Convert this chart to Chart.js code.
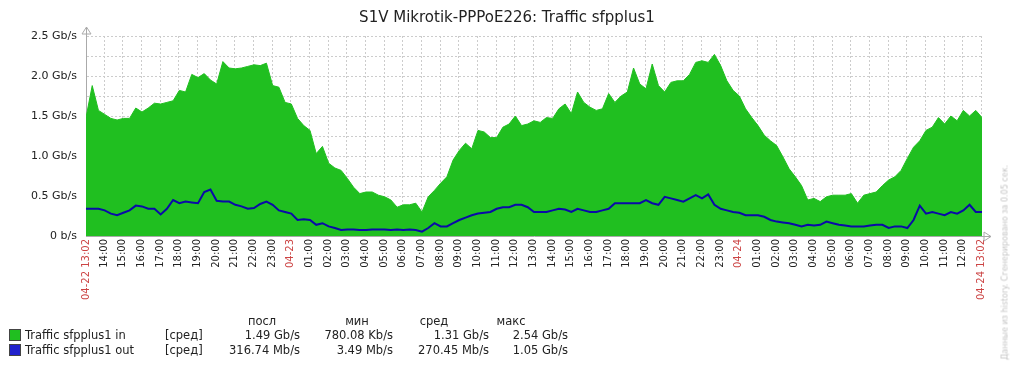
<!DOCTYPE html>
<html>
<head>
<meta charset="utf-8">
<script src="https://cdn.jsdelivr.net/npm/chart.js@4.4.1/dist/chart.umd.min.js"></script>
<style>
  body { margin: 0; background: #fff; font-family: "DejaVu Sans", sans-serif; }
  #wrap { position: relative; width: 1014px; height: 368px; overflow: hidden; }
  #chart { position: absolute; left: 0; top: 0; }
  .title { position: absolute; left: 0; width: 1014px; top: 8px; text-align: center; font-size: 15px; color: #222; }
  .lg { position: absolute; font-size: 11.5px; color: #222; white-space: nowrap; line-height: 13px; }
  .r { text-align: right; }
  .c { text-align: center; }
  .sq { position: absolute; width: 10px; height: 10px; border: 1px solid #444; }
  .note { position: absolute; left: 905px; top: 258px; width: 200px; transform: rotate(-90deg); font-size: 8px; color: #c4c4c4; white-space: nowrap; text-align: center; }
</style>
</head>
<body>
<div id="wrap">
  <canvas id="chart" width="1014" height="368"></canvas>
  <div class="title">S1V Mikrotik-PPPoE226: Traffic sfpplus1</div>
  <div id="legend"></div>
  <div class="note">Данные из history. Сгенерировано за 0.05 сек.</div>
</div>
<script>
// ===============================
// DATA (one sample per 20 min, Gb/s)
// ===============================
const trafficIn = [
  1.48, 1.88, 1.57, 1.52, 1.47, 1.45, 1.47, 1.47, 1.60, 1.55, 1.60, 1.66, 1.65, 1.67, 1.69, 1.82,
  1.80, 2.02, 1.98, 2.03, 1.95, 1.90, 2.18, 2.10, 2.09, 2.10, 2.12, 2.14, 2.13, 2.16, 1.88, 1.86,
  1.67, 1.65, 1.47, 1.38, 1.32, 1.03, 1.12, 0.91, 0.85, 0.82, 0.72, 0.61, 0.53, 0.55, 0.55, 0.51,
  0.49, 0.45, 0.36, 0.39, 0.39, 0.41, 0.30, 0.49, 0.57, 0.66, 0.74, 0.95, 1.07, 1.16, 1.09, 1.32,
  1.30, 1.23, 1.23, 1.36, 1.40, 1.50, 1.38, 1.40, 1.44, 1.42, 1.48, 1.47, 1.59, 1.65, 1.53, 1.80,
  1.67, 1.61, 1.57, 1.59, 1.78, 1.67, 1.75, 1.80, 2.10, 1.90, 1.84, 2.15, 1.88, 1.80, 1.92, 1.94,
  1.94, 2.02, 2.17, 2.19, 2.17, 2.27, 2.13, 1.94, 1.82, 1.75, 1.59, 1.48, 1.38, 1.26, 1.19, 1.13,
  0.99, 0.84, 0.74, 0.63, 0.45, 0.47, 0.43, 0.49, 0.51, 0.51, 0.51, 0.53, 0.41, 0.51, 0.53, 0.55,
  0.63, 0.70, 0.74, 0.82, 0.97, 1.11, 1.19, 1.32, 1.36, 1.48, 1.40, 1.50, 1.44, 1.57, 1.50, 1.57,
  1.48
];

const trafficOut = [
  0.34, 0.34, 0.34, 0.32, 0.28, 0.26, 0.29, 0.32, 0.38, 0.37, 0.34, 0.34, 0.27, 0.34, 0.45, 0.41,
  0.43, 0.42, 0.41, 0.55, 0.58, 0.44, 0.43, 0.43, 0.39, 0.37, 0.34, 0.35, 0.40, 0.43, 0.39, 0.32,
  0.30, 0.28, 0.20, 0.21, 0.20, 0.14, 0.16, 0.12, 0.10, 0.075, 0.08, 0.08, 0.075, 0.075, 0.08, 0.08,
  0.08, 0.075, 0.08, 0.075, 0.08, 0.075, 0.055, 0.10, 0.16, 0.12, 0.12, 0.16, 0.20, 0.23, 0.26, 0.28,
  0.29, 0.30, 0.34, 0.36, 0.36, 0.39, 0.39, 0.36, 0.30, 0.30, 0.30, 0.32, 0.34, 0.33, 0.30, 0.34,
  0.32, 0.30, 0.30, 0.32, 0.34, 0.41, 0.41, 0.41, 0.41, 0.41, 0.45, 0.41, 0.39, 0.49, 0.47, 0.45,
  0.43, 0.47, 0.51, 0.47, 0.52, 0.39, 0.34, 0.32, 0.30, 0.29, 0.26, 0.26, 0.26, 0.24, 0.20, 0.18,
  0.17, 0.16, 0.14, 0.12, 0.14, 0.13, 0.14, 0.18, 0.16, 0.14, 0.13, 0.12, 0.12, 0.12, 0.13, 0.14,
  0.14, 0.10, 0.12, 0.12, 0.10, 0.20, 0.38, 0.28, 0.30, 0.28, 0.26, 0.30, 0.28, 0.32, 0.39, 0.30,
  0.30
];

const sampleStepHours = 1 / 3;
const totalHours = 48;
const firstFullHour = 58 / 60; // 13:02 -> 14:00

const timeLabels = [
  "04-22 13:02", "14:00", "15:00", "16:00", "17:00", "18:00", "19:00", "20:00", "21:00", "22:00", "23:00",
  "04-23", "01:00", "02:00", "03:00", "04:00", "05:00", "06:00", "07:00", "08:00", "09:00", "10:00", "11:00",
  "12:00", "13:00", "14:00", "15:00", "16:00", "17:00", "18:00", "19:00", "20:00", "21:00", "22:00", "23:00",
  "04-24", "01:00", "02:00", "03:00", "04:00", "05:00", "06:00", "07:00", "08:00", "09:00", "10:00", "11:00",
  "12:00", "04-24 13:02"
];
const yTickLabels = ["0 b/s", "0.5 Gb/s", "1.0 Gb/s", "1.5 Gb/s", "2.0 Gb/s", "2.5 Gb/s"];

const legendHeaders = ["посл", "мин", "сред", "макс"];
const legendNames = ["Traffic sfpplus1 in", "Traffic sfpplus1 out"];
const legendStats = [
  ["1.49 Gb/s", "780.08 Kb/s", "1.31 Gb/s", "2.54 Gb/s"],
  ["316.74 Mb/s", "3.49 Mb/s", "270.45 Mb/s", "1.05 Gb/s"]
];

const GREEN = "#20bf20";
const BLUE = "#0a0aa8";

// tick positions in hours from the start
const tickHours = [0];
for (let h = firstFullHour; h < totalHours; h += 1) tickHours.push(h);
tickHours.push(totalHours);

const toPoints = arr => arr.map((v, i) => ({ x: i * sampleStepHours, y: v }));

// ===============================
// ARROWS on the axes
// ===============================
const axisArrows = {
  id: "axisArrows",
  afterDraw(chart) {
    const { ctx, chartArea: a } = chart;
    ctx.save();
    ctx.strokeStyle = "#aaa";
    ctx.lineWidth = 1;
    ctx.beginPath();
    ctx.moveTo(a.left + 0.5, a.top);
    ctx.lineTo(a.left + 0.5, a.top - 9);
    ctx.moveTo(a.left - 4, a.top - 2);
    ctx.lineTo(a.left + 0.5, a.top - 9);
    ctx.lineTo(a.left + 5, a.top - 2);
    ctx.closePath();
    ctx.moveTo(a.right, a.bottom + 0.5);
    ctx.lineTo(a.right + 9, a.bottom + 0.5);
    ctx.moveTo(a.right + 2, a.bottom - 4);
    ctx.lineTo(a.right + 9, a.bottom + 0.5);
    ctx.lineTo(a.right + 2, a.bottom + 5);
    ctx.closePath();
    ctx.stroke();
    ctx.restore();
  }
};

// ===============================
// CHART
// ===============================
new Chart(document.getElementById("chart"), {
  type: "line",
  data: {
    datasets: [
      {
        label: legendNames[1],
        data: toPoints(trafficOut),
        borderColor: BLUE,
        borderWidth: 2,
        pointRadius: 0,
        fill: false,
        order: 0
      },
      {
        label: legendNames[0],
        data: toPoints(trafficIn),
        borderColor: GREEN,
        backgroundColor: GREEN,
        borderWidth: 1,
        pointRadius: 0,
        fill: "origin",
        order: 1
      }
    ]
  },
  options: {
    responsive: false,
    animation: false,
    events: [],
    layout: { padding: { left: 0, right: 32, top: 36, bottom: 0 } },
    plugins: { legend: { display: false }, tooltip: { enabled: false } },
    scales: {
      x: {
        type: "linear",
        min: 0,
        max: totalHours,
        afterBuildTicks: scale => { scale.ticks = tickHours.map(v => ({ value: v })); },
        afterFit: scale => { scale.height = 132; },
        grid: { color: "#cccccc", drawTicks: false },
        border: { display: true, color: "#aaa", dash: [2, 2] },
        ticks: {
          autoSkip: false,
          minRotation: 90,
          maxRotation: 90,
          padding: 3,
          font: { family: "DejaVu Sans", size: 10 },
          color: ctx => /-/.test(timeLabels[ctx.index]) ? "#cc4444" : "#222",
          callback: (value, index) => timeLabels[index]
        }
      },
      y: {
        min: 0,
        max: 2.5,
        afterFit: scale => { scale.width = 86; },
        grid: { color: "#cccccc", drawTicks: false },
        border: { display: true, color: "#aaa", dash: [2, 2] },
        ticks: {
          stepSize: 0.25,
          padding: 9,
          font: { family: "DejaVu Sans", size: 11 },
          color: "#222",
          callback: value => {
            const k = Math.round(value / 0.5);
            return Math.abs(value - k * 0.5) < 1e-6 ? yTickLabels[k] : "";
          }
        }
      }
    }
  },
  plugins: [axisArrows]
});

// ===============================
// LEGEND (zabbix style table)
// ===============================
const legend = document.getElementById("legend");
const colRight = [300, 393, 489, 568];
const colHead = [262, 357, 434, 511];
const rowY = [329, 344];
const colors = [GREEN, "#2222cc"];

let html = "";
legendHeaders.forEach((h, i) => {
  html += `<div class="lg c" style="left:${colHead[i] - 40}px;top:315px;width:80px">${h}</div>`;
});
legendNames.forEach((name, r) => {
  html += `<div class="sq" style="left:9px;top:${rowY[r]}px;background:${colors[r]}"></div>`;
  html += `<div class="lg" style="left:25px;top:${rowY[r]}px">${name}</div>`;
  html += `<div class="lg" style="left:165px;top:${rowY[r]}px">[сред]</div>`;
  legendStats[r].forEach((s, c) => {
    html += `<div class="lg r" style="left:${colRight[c] - 100}px;top:${rowY[r]}px;width:100px">${s}</div>`;
  });
});
legend.innerHTML = html;
</script>
</body>
</html>
